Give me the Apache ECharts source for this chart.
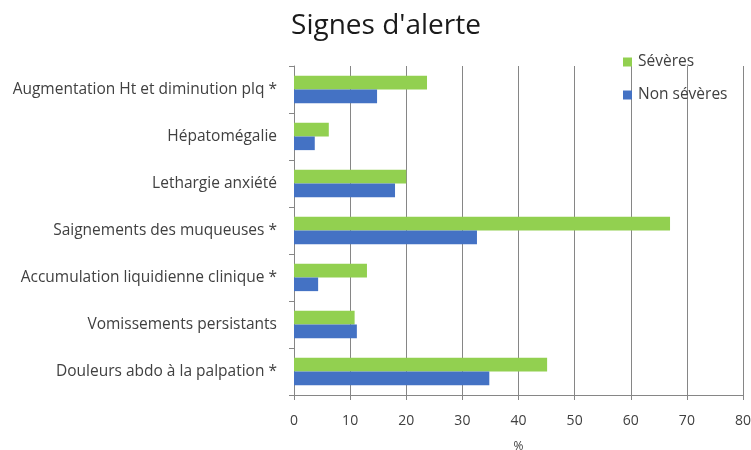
<!DOCTYPE html>
<html>
<head>
<meta charset="utf-8">
<script src="https://cdn.jsdelivr.net/npm/echarts@6/dist/echarts.min.js"></script>
<style>
html,body{margin:0;padding:0;background:#fff;}
#chart{width:751px;height:450px;}
</style>
</head>
<body>
<div id="chart"></div>
<script>
// Categories listed bottom to top (category axis starts at the bottom)
const categories = [
  "Douleurs abdo à la palpation *",
  "Vomissements persistants",
  "Accumulation liquidienne clinique *",
  "Saignements des muqueuses *",
  "Lethargie anxiété",
  "Hépatomégalie",
  "Augmentation Ht et diminution plq *"
];
const severes = [45.1, 10.8, 13.0, 67.0, 20.0, 6.2, 23.7];
const nonSeveres = [34.8, 11.2, 4.3, 32.6, 18.0, 3.7, 14.8];
const xTicks = [0, 10, 20, 30, 40, 50, 60, 70, 80];

const font = "Open Sans";
const textColor = "#404040";
const lineColor = "#868686";

const chart = echarts.init(document.getElementById("chart"));
chart.setOption({
  animation: false,
  title: {
    text: "Signes d'alerte",
    left: 381,
    top: 7,
    textAlign: "center",
    textStyle: { fontFamily: font, fontSize: 28, fontWeight: "normal", color: "#1a1a1a" }
  },
  legend: {
    orient: "vertical",
    left: 618,
    top: 49,
    itemGap: 17,
    itemWidth: 9,
    itemHeight: 9,
    icon: "rect",
    textStyle: { fontFamily: font, fontSize: 15.5, color: textColor, padding: [0, 0, 0, 1] },
    data: ["Sévères", "Non sévères"]
  },
  grid: { left: 294, right: 8, top: 66, bottom: 55, containLabel: false, outerBoundsMode: "none" },
  xAxis: {
    type: "value",
    min: xTicks[0],
    max: xTicks[xTicks.length - 1],
    interval: 10,
    name: "%",
    nameLocation: "middle",
    nameGap: 46,
    nameTextStyle: { fontFamily: font, fontSize: 12, color: textColor },
    axisLine: { show: true, lineStyle: { color: lineColor } },
    axisTick: { show: true, length: 5, lineStyle: { color: lineColor } },
    axisLabel: { fontFamily: font, fontSize: 14, color: textColor, margin: 19 },
    splitLine: { show: true, lineStyle: { color: lineColor, width: 1 } }
  },
  yAxis: {
    type: "category",
    data: categories,
    axisLine: { show: true, lineStyle: { color: lineColor } },
    axisTick: { show: true, length: 5, lineStyle: { color: lineColor } },
    axisLabel: { fontFamily: font, fontSize: 15.5, color: textColor, margin: 17, padding: [6, 0, 0, 0] }
  },
  series: [
    {
      name: "Sévères",
      type: "bar",
      data: severes,
      itemStyle: { color: "#92d050" },
      barGap: "0%",
      barCategoryGap: "42%"
    },
    {
      name: "Non sévères",
      type: "bar",
      data: nonSeveres,
      itemStyle: { color: "#4472c4" },
      barGap: "0%",
      barCategoryGap: "42%"
    }
  ]
});
</script>
</body>
</html>
